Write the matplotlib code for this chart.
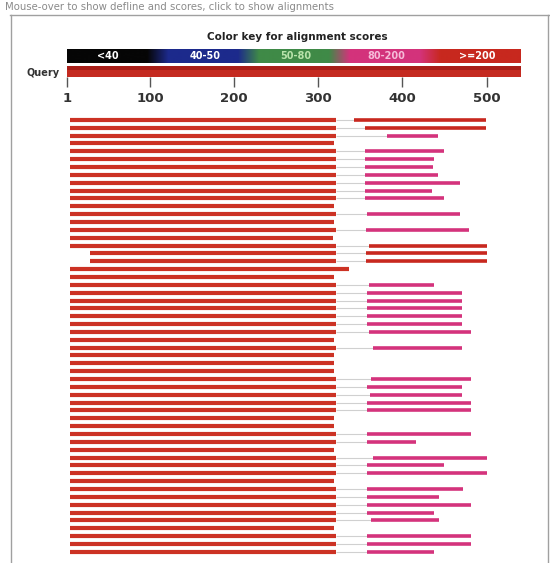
import numpy as np
import matplotlib.pyplot as plt
from matplotlib.lines import Line2D

W, H = 550, 563

# score classes for the colour key
key_labels = ["<40", "40-50", "50-80", "80-200", ">=200"]
key_colors = ["#060606", "#1d2a8c", "#3f8a47", "#d4337c", "#c8281f"]
key_text = ["#ffffff", "#ffffff", "#b8e2aa", "#f6bcd9", "#ffffff"]

query_len = 541
ruler_ticks = [1, 100, 200, 300, 400, 500]

# main hit segment of every subject (query coordinates)
hit_start = [4] * 17 + [28, 28] + [4] * 37
hit_end = [321, 321, 321, 318, 321, 321, 321, 321, 321, 321, 321, 318, 321, 318,
           321, 317, 321, 321, 321, 336, 318, 321, 321, 321, 321, 321, 321, 321,
           318, 321, 318, 318, 318, 321, 321, 321, 321, 321, 318, 318, 321, 321,
           318, 321, 321, 321, 318, 321, 321, 321, 321, 321, 318, 321, 321, 321]

# second HSP after the gap (nan = none)
nan = np.nan
tail_start = [342, 356, 382, nan, 356, 356, 356, 356, 356, 356, 356, nan, 358, nan,
              357, nan, 360, 357, 357, nan, nan, 360, 358, 358, 358, 358, 358, 360,
              nan, 365, nan, nan, nan, 363, 358, 361, 358, 358, nan, nan, 358, 358,
              nan, 365, 358, 358, nan, 358, 358, 358, 358, 363, nan, 358, 358, 358]
tail_end = [499, 499, 442, nan, 449, 437, 436, 442, 469, 435, 449, nan, 469, nan,
            479, nan, 501, 501, 501, nan, nan, 437, 471, 471, 471, 471, 471, 481,
            nan, 471, nan, nan, nan, 481, 471, 471, 481, 481, nan, nan, 482, 416,
            nan, 501, 449, 501, nan, 472, 443, 482, 438, 444, nan, 482, 482, 437]
tail_score = [">=200", ">=200"] + ["80-200"] * 14 + [">=200"] * 3 + ["80-200"] * 37

fig = plt.figure(figsize=(W / 100, H / 100), dpi=100)


def fx(px):
    return px / W


def fy(py):
    return 1 - py / H


def box(x0, y0, x1, y1):
    return [fx(x0), fy(y1), (x1 - x0) / W, (y1 - y0) / H]


# page header and frame
fig.text(fx(5), fy(7), "Mouse-over to show defline and scores, click to show alignments",
         fontsize=7.3, color="#8a8a8a", va="center", ha="left")
for xs, ys in [((10, 549), (15, 15)), ((11, 11), (15, 563)), ((548, 548), (15, 563))]:
    fig.add_artist(Line2D([fx(x) for x in xs], [fy(y) for y in ys],
                          color="#a0a0a0", lw=1.0, transform=fig.transFigure))

fig.text(fx(297), fy(37), "Color key for alignment scores", fontsize=7.5,
         fontweight="bold", color="#222222", ha="center", va="center")

# colour key strip with soft edges between classes
kax = fig.add_axes(box(67, 49, 521, 63))
seg = 91
strip = np.concatenate([np.tile(plt.matplotlib.colors.to_rgb(c), (seg, 1)) for c in key_colors])
kernel = np.ones(21) / 21
padded = np.pad(strip, ((10, 10), (0, 0)), mode="edge")
strip = np.stack([np.convolve(padded[:, k], kernel, mode="valid") for k in range(3)], axis=1)
kax.imshow(strip[np.newaxis, :, :], aspect="auto", extent=(0, len(key_labels), 0, 1))
for i, (lab, tc) in enumerate(zip(key_labels, key_text)):
    kax.text(i + (0.45 if i == 0 else 0.52), 0.5, lab, color=tc, fontsize=7,
             fontweight="bold", ha="center", va="center")
kax.set_xlim(0, len(key_labels))
kax.set_ylim(0, 1)
kax.axis("off")

# query bar with ruler
qax = fig.add_axes(box(67, 66, 521, 77))
qax.barh(0, query_len - 1, left=1, height=1, color="#c42a20")
qax.barh(0.3, query_len - 1, left=1, height=0.35, color="#a81e18")
qax.set_xlim(1, query_len)
qax.set_ylim(-0.5, 0.5)
qax.set_yticks([])
qax.set_xticks(ruler_ticks)
qax.set_xticklabels([str(t) for t in ruler_ticks], fontsize=9.5, fontweight="bold",
                    color="#333333")
qax.tick_params(axis="x", length=7, width=1.0, color="#555555", pad=4)
for s in qax.spines.values():
    s.set_visible(False)
fig.text(fx(43), fy(73), "Query", fontsize=7, fontweight="bold", color="#333333",
         ha="center", va="center")

# hits
hax = fig.add_axes(box(67, 116, 521, 555.7))
rows = np.arange(len(hit_start))
score_color = dict(zip(key_labels, key_colors))
tail_colors = [score_color[s] for s in tail_score]
has_tail = ~np.isnan(np.array(tail_start))

hax.hlines(rows[has_tail], np.array(hit_end)[has_tail], np.array(tail_start)[has_tail],
           colors="#d0d0d0", lw=0.8)
hax.hlines(rows, hit_start, hit_end, colors="#cc3224", lw=3.0, capstyle="butt")
hax.hlines(rows[has_tail], np.array(tail_start)[has_tail], np.array(tail_end)[has_tail],
           colors=np.array(tail_colors)[has_tail], lw=2.6, capstyle="butt")
hax.set_xlim(1, query_len)
hax.set_ylim(len(rows) - 0.5, -0.5)
hax.axis("off")

fig.savefig("out.png", dpi=100)
